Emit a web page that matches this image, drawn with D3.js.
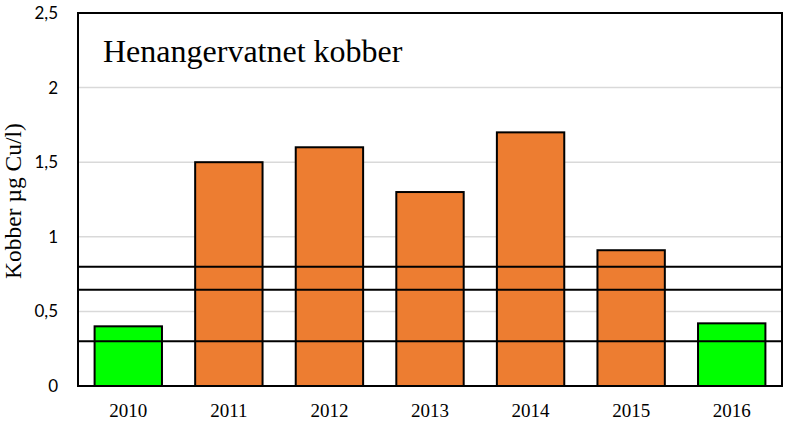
<!DOCTYPE html>
<html><head><meta charset="utf-8">
<script src="https://cdn.jsdelivr.net/npm/d3@7/dist/d3.min.js"></script>
<style>body{margin:0;background:#fff}</style>
</head><body>
<svg id="c" width="792" height="425"></svg>
<script>
const years = ["2010","2011","2012","2013","2014","2015","2016"];
const values = [0.40, 1.50, 1.60, 1.30, 1.70, 0.91, 0.42];
const barColors = ["#00FF00","#ED7D31","#ED7D31","#ED7D31","#ED7D31","#ED7D31","#00FF00"];
const refLines = [0.8, 0.645, 0.3];
const yTicks = [0, 0.5, 1, 1.5, 2, 2.5];
const yTickLabels = ["0","0,5","1","1,5","2","2,5"];
const title = "Henangervatnet kobber";
const yLabel = "Kobber µg Cu/l)";

const svg = d3.select("#c");
const L = 78, R = 782, T = 13, B = 386;
const x = d3.scaleBand().domain(years).range([L, R]).paddingInner(0.33).paddingOuter(0.165);
const y = d3.scaleLinear().domain([0, 2.5]).range([B, T]);

// gridlines
svg.append("g").selectAll("line").data(yTicks.filter(d => d > 0 && d < 2.5)).join("line")
  .attr("x1", L).attr("x2", R).attr("y1", d => y(d)).attr("y2", d => y(d))
  .attr("stroke", "#d9d9d9").attr("stroke-width", 1.5);

// bars
svg.append("g").selectAll("rect").data(values).join("rect")
  .attr("x", (d, i) => x(years[i])).attr("width", x.bandwidth())
  .attr("y", d => y(d)).attr("height", d => y(0) - y(d))
  .attr("fill", (d, i) => barColors[i]).attr("stroke", "#000").attr("stroke-width", 2);

// reference lines
svg.append("g").selectAll("line").data(refLines).join("line")
  .attr("x1", L).attr("x2", R).attr("y1", d => y(d)).attr("y2", d => y(d))
  .attr("stroke", "#000").attr("stroke-width", 2);

// border
svg.append("rect").attr("x", L).attr("y", T).attr("width", R - L).attr("height", B - T)
  .attr("fill", "none").attr("stroke", "#000").attr("stroke-width", 2);

// y axis
const yAxis = d3.axisLeft(y).tickValues(yTicks).tickFormat((d, i) => yTickLabels[i]).tickSize(0).tickPadding(20);
const gy = svg.append("g").attr("transform", `translate(${L},0)`).call(yAxis);
gy.select(".domain").remove();
gy.selectAll("text").attr("font-family", "Lato, sans-serif").attr("font-size", 17).attr("fill", "#000");

// x axis
const xAxis = d3.axisBottom(x).tickSize(0).tickPadding(18);
const gx = svg.append("g").attr("transform", `translate(0,${B})`).call(xAxis);
gx.select(".domain").remove();
gx.selectAll("text").attr("font-family", "'Liberation Serif', 'Times New Roman', serif").attr("font-size", 19).attr("fill", "#000");

// title
svg.append("text").attr("x", 103).attr("y", 62).text(title)
  .attr("font-family", "'Liberation Serif', 'Times New Roman', serif").attr("font-size", 32).attr("fill", "#000");

// y label
svg.append("text").attr("transform", "translate(21,201) rotate(-90)").attr("text-anchor", "middle").text(yLabel)
  .attr("font-family", "'Liberation Serif', 'Times New Roman', serif").attr("font-size", 23.5).attr("fill", "#000");
</script>
</body></html>
